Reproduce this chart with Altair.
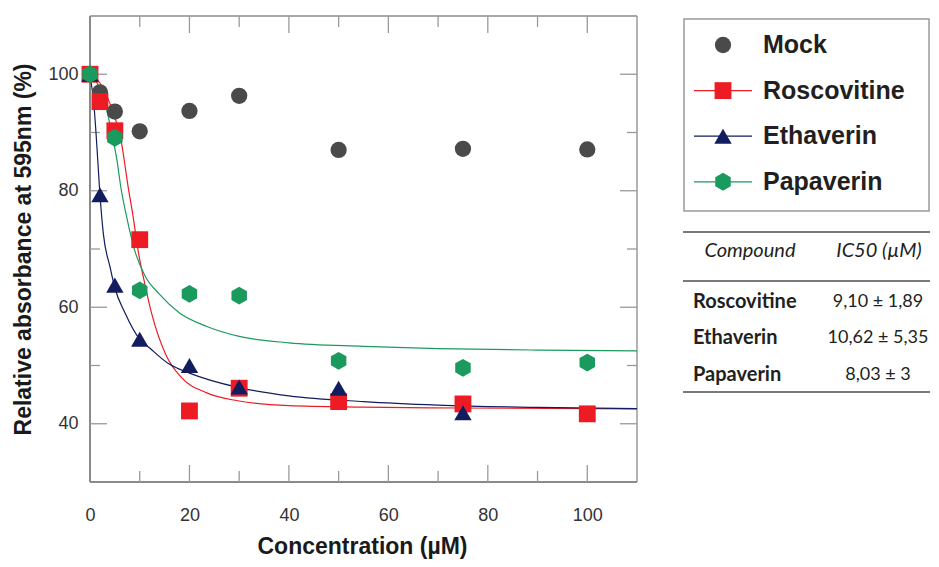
import altair as alt
import pandas as pd

# ---------------- data ----------------
series = ["Mock", "Roscovitine", "Ethaverin", "Papaverin"]
colors = ["#4a4a4a", "#ed1c24", "#111d5e", "#1b9a5e"]

mock_x = [0, 2, 5, 10, 20, 30, 50, 75, 100]
mock_y = [100, 96.9, 93.6, 90.2, 93.7, 96.3, 87.0, 87.2, 87.1]

rosc_x = [0, 2, 5, 10, 20, 30, 50, 75, 100]
rosc_y = [100, 95.3, 90.3, 71.6, 42.2, 46.1, 43.8, 43.4, 41.7]

etha_x = [0, 2, 5, 10, 20, 30, 50, 75]
etha_y = [100, 79.3, 63.8, 54.5, 50.0, 46.3, 46.1, 41.9]

papa_x = [0, 5, 10, 20, 30, 50, 75, 100]
papa_y = [100, 89.1, 62.9, 62.3, 62.0, 50.8, 49.6, 50.5]

# fitted curves
rosc_fit_x = [0, 2, 4, 5.4, 6.2, 7.7, 8.7, 9.7, 11.05, 12.5, 15.4, 18.1, 23.5, 30, 40, 55, 75, 110]
rosc_fit_y = [100, 98.5, 95, 91.5, 88.8, 80.5, 75.4, 69.6, 63.9, 58.6, 51.6, 48.2, 45.3, 43.9, 43.1, 42.85, 42.7, 42.55]

etha_fit_x = [0, 0.87, 1.55, 1.9, 2.7, 4.0, 5.0, 7.0, 10, 12, 16, 20, 30, 40, 55, 70, 90, 110]
etha_fit_y = [100, 93.9, 85.4, 80.6, 72.5, 67.0, 63.3, 59.1, 54.5, 53.0, 50.2, 48.7, 46.2, 44.8, 43.8, 43.2, 42.8, 42.6]

papa_fit_x = [0, 2, 3.35, 4.7, 5.4, 6.2, 7.4, 9.05, 11, 14, 18, 23.5, 30, 40, 55, 70, 90, 110]
papa_fit_y = [100, 97.5, 93.9, 88.5, 85.4, 80.6, 75.4, 69.6, 65.5, 62.2, 59.0, 56.7, 55.0, 53.9, 53.3, 52.9, 52.65, 52.5]

x_labels = [0, 20, 40, 60, 80, 100]
y_labels = [40, 60, 80, 100]
x_major_ticks = [20, 40, 60, 80, 100]
x_minor_ticks = [10, 30, 50, 70, 90]
y_major_ticks = [40, 60, 80, 100]
y_minor_ticks = [50, 70, 90]

compounds = ["Roscovitine", "Ethaverin", "Papaverin"]
ic50 = ["9,10 ± 1,89", "10,62 ± 5,35", "8,03 ± 3"]
table_header = ["Compound", "IC50 (µM)"]

x_title = "Concentration (µM)"
y_title = "Relative absorbance at 595nm (%)"

# ---------------- tables ----------------
pts = pd.concat([
    pd.DataFrame({"series": "Mock", "x": mock_x, "y": mock_y}),
    pd.DataFrame({"series": "Roscovitine", "x": rosc_x, "y": rosc_y}),
    pd.DataFrame({"series": "Ethaverin", "x": etha_x, "y": etha_y}),
    pd.DataFrame({"series": "Papaverin", "x": papa_x, "y": papa_y}),
], ignore_index=True)

fits = pd.concat([
    pd.DataFrame({"series": "Roscovitine", "x": rosc_fit_x, "y": rosc_fit_y}),
    pd.DataFrame({"series": "Ethaverin", "x": etha_fit_x, "y": etha_fit_y}),
    pd.DataFrame({"series": "Papaverin", "x": papa_fit_x, "y": papa_fit_y}),
], ignore_index=True)

W, H = 547, 466
HEX = "M0,-1L0.866,-0.5L0.866,0.5L0,1L-0.866,0.5L-0.866,-0.5Z"

xs = alt.Scale(domain=[0, 110], nice=False, zero=False)
ys = alt.Scale(domain=[30, 110], nice=False, zero=False)
cs = alt.Scale(domain=series, range=colors)
ss = alt.Scale(domain=series, range=["circle", "square", "triangle-up", HEX])
zs = alt.Scale(domain=series, range=[265, 320, 340, 360])

FONT = "Liberation Sans"
X_AX = alt.Axis(values=x_labels, title=x_title, ticks=False, tickSize=0, domain=False, grid=False,
                labelFont=FONT, labelFontSize=18, labelColor="#333333", labelPadding=24,
                labelFlush=False, titleFont=FONT, titleFontSize=23, titleFontWeight="bold",
                titleColor="#1a1a1a", titleX=272, titleY=71, titleBaseline="alphabetic",
                titleAlign="center")
Y_AX = alt.Axis(values=y_labels, title=y_title, ticks=False, tickSize=0, domain=False, grid=False,
                labelFont=FONT, labelFontSize=18, labelColor="#333333", labelPadding=12,
                titleFont=FONT, titleFontSize=23, titleFontWeight="bold", titleColor="#1a1a1a",
                titleX=-60, titleY=233, titleAngle=270, titleBaseline="alphabetic",
                titleAlign="center")

X = lambda f: alt.X(f, scale=xs, axis=X_AX)
Y = lambda f: alt.Y(f, scale=ys, axis=Y_AX)

one = pd.DataFrame({"k": [0]})
TICK = "#9a9a9a"
FRAME = "#8a8a8a"

layers = []

# frame
layers.append(alt.Chart(one).mark_rule(color=FRAME, strokeWidth=1.3).encode(
    x=alt.value(0), x2=alt.value(W), y=alt.value(0)))
layers.append(alt.Chart(one).mark_rule(color=FRAME, strokeWidth=1.3).encode(
    x=alt.value(W), y=alt.value(0), y2=alt.value(H)))
layers.append(alt.Chart(one).mark_rule(color=FRAME, strokeWidth=2).encode(
    x=alt.value(0), x2=alt.value(W), y=alt.value(H)))
layers.append(alt.Chart(one).mark_rule(color=FRAME, strokeWidth=2).encode(
    x=alt.value(0), y=alt.value(0), y2=alt.value(H)))

# ticks (inward, top/bottom and left/right)
xmaj = pd.DataFrame({"v": x_major_ticks})
xmin = pd.DataFrame({"v": x_minor_ticks})
ymaj = pd.DataFrame({"v": y_major_ticks})
ymin = pd.DataFrame({"v": y_minor_ticks})
for df, ln in [(xmaj, 17), (xmin, 11)]:
    layers.append(alt.Chart(df).mark_rule(color=TICK, strokeWidth=1.3).encode(
        x=X("v:Q"), y=alt.value(H), y2=alt.value(H - ln)))
    layers.append(alt.Chart(df).mark_rule(color=TICK, strokeWidth=1.3).encode(
        x=X("v:Q"), y=alt.value(0), y2=alt.value(ln)))
for df, ln in [(ymaj, 17), (ymin, 10)]:
    layers.append(alt.Chart(df).mark_rule(color=TICK, strokeWidth=1.3).encode(
        y=Y("v:Q"), x=alt.value(0), x2=alt.value(ln)))
    layers.append(alt.Chart(df).mark_rule(color=TICK, strokeWidth=1.3).encode(
        y=Y("v:Q"), x=alt.value(W), x2=alt.value(W - ln)))

# fitted curves
layers.append(alt.Chart(fits).mark_line(interpolate="monotone", strokeWidth=1.2).encode(
    x=X("x:Q"), y=Y("y:Q"),
    color=alt.Color("series:N", scale=cs, legend=None),
    detail="series:N"))

# data points
layers.append(alt.Chart(pts).mark_point(filled=True, opacity=1, strokeWidth=0).encode(
    x=X("x:Q"), y=Y("y:Q"),
    color=alt.Color("series:N", scale=cs, legend=None),
    shape=alt.Shape("series:N", scale=ss, legend=None),
    size=alt.Size("series:N", scale=zs, legend=None)))

# ---------------- legend box (right side) ----------------
LX0, LX1 = 594, 839
leg = pd.DataFrame({"series": series})
leg["py"] = [29 + i * 45.6 for i in range(len(series))]
layers.append(alt.Chart(one).mark_rect(fillOpacity=0, stroke="#9a9a9a", strokeWidth=1.5).encode(
    x=alt.value(LX0), x2=alt.value(LX1), y=alt.value(3), y2=alt.value(195)))
layers.append(alt.Chart(leg[leg.series != "Mock"]).mark_rule(strokeWidth=1.3).encode(
    x=alt.value(604), x2=alt.value(662), y=alt.Y("py:Q", scale=None),
    color=alt.Color("series:N", scale=cs, legend=None)))
layers.append(alt.Chart(leg).mark_point(filled=True, opacity=1, strokeWidth=0).encode(
    x=alt.value(633), y=alt.Y("py:Q", scale=None),
    color=alt.Color("series:N", scale=cs, legend=None),
    shape=alt.Shape("series:N", scale=ss, legend=None),
    size=alt.Size("series:N", scale=zs, legend=None)))
layers.append(alt.Chart(leg).mark_text(align="left", baseline="middle", font=FONT, fontSize=25,
                                       fontWeight="bold", color="#231f20").encode(
    x=alt.value(673), y=alt.Y("py:Q", scale=None), text="series:N"))

# ---------------- IC50 table ----------------
TF = "Lato"
for yy in [216, 265, 376]:
    layers.append(alt.Chart(one).mark_rule(color="#7a7a7a", strokeWidth=2).encode(
        x=alt.value(593), x2=alt.value(LX1 + 1), y=alt.value(yy)))
hdr = pd.DataFrame({"t": table_header, "px": [660, 789]})
layers.append(alt.Chart(hdr).mark_text(align="center", baseline="middle", font=TF, fontSize=20,
                                       fontStyle="italic", color="#231f20").encode(
    x=alt.X("px:Q", scale=None), y=alt.value(235), text="t:N"))
tab = pd.DataFrame({"c": compounds, "v": ic50})
tab["py"] = [286 + i * 36.3 for i in range(len(compounds))]
layers.append(alt.Chart(tab).mark_text(align="left", baseline="middle", font=TF, fontSize=20,
                                       fontWeight="bold", color="#231f20").encode(
    x=alt.value(603), y=alt.Y("py:Q", scale=None), text="c:N"))
layers.append(alt.Chart(tab).mark_text(align="center", baseline="middle", font=TF, fontSize=18,
                                       color="#231f20").encode(
    x=alt.value(788), y=alt.Y("py:Q", scale=None), text="v:N"))

chart = alt.layer(*layers).properties(
    width=W, height=H,
    autosize=alt.AutoSizeParams(type="none"),
    padding={"left": 82, "top": 8, "right": 293, "bottom": 77},
    background="white",
).configure_view(strokeWidth=0)

chart.save("out.html", embed_options={"renderer": "svg", "actions": False})
